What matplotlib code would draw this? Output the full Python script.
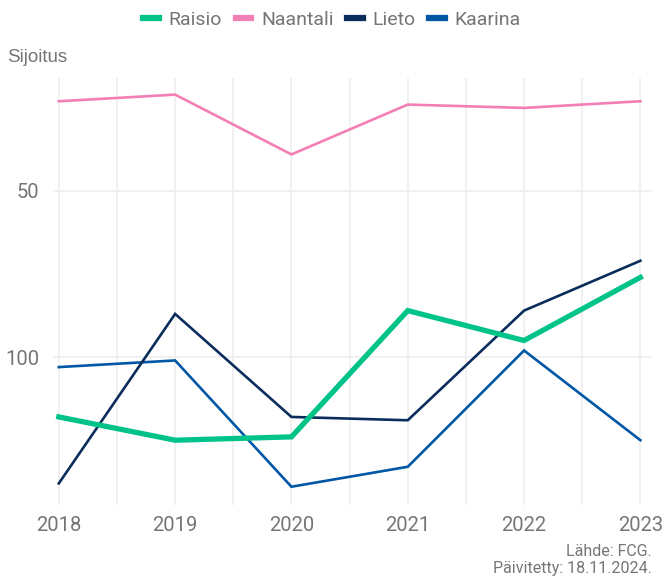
import matplotlib.pyplot as plt
from matplotlib.lines import Line2D

# Ranking of each municipality per year (lower rank = better)
years = [2018, 2019, 2020, 2021, 2022, 2023]
raisio = [118, 125, 124, 86, 95, 76]
naantali = [23, 21, 39, 24, 25, 23]
lieto = [138, 87, 118, 119, 86, 71]
kaarina = [103, 101, 139, 133, 98, 125]

names = ['Raisio', 'Naantali', 'Lieto', 'Kaarina']
colors = ['#00C389', '#F47FB6', '#0A2D5C', '#0057A6']
widths = [3.8, 1.9, 1.9, 1.9]

plt.rcParams['font.family'] = ['Roboto', 'DejaVu Sans']
gray = '#757575'

fig = plt.figure(figsize=(6.64, 5.81), dpi=100)
ax = fig.add_axes([53 / 664, 76 / 581, 599 / 664, 427 / 581])

series = [raisio, naantali, lieto, kaarina]
# thin lines first, Raisio on top
order = [3, 2, 0, 1]
for i in order:
    ax.plot(years, series[i], color=colors[i], linewidth=widths[i],
            solid_joinstyle='miter', zorder=3)

ax.set_xlim(2017.95, 2023.1)
ax.set_ylim(144.5, 16)
ax.set_yticks([50, 100])
ax.set_xticks(years)
ax.set_xticks([y + 0.5 for y in years[:-1]], minor=True)

ax.grid(True, which='major', color='#F0F0F0', linewidth=1.3, zorder=0)
ax.grid(True, which='minor', axis='x', color='#F0F0F0', linewidth=1.3, zorder=0)
for s in ax.spines.values():
    s.set_visible(False)
ax.tick_params(which='both', length=0, labelsize=14.5, labelcolor=gray)
ax.tick_params(axis='x', pad=8)
ax.tick_params(axis='y', pad=10)

fig.text(7 / 664, 1 - 58 / 581, 'Sijoitus', family='Liberation Sans',
         fontsize=13.5, color=gray, va='center', ha='left')

handles = [Line2D([0], [0], color=c, linewidth=4.5) for c in colors]
fig.legend(handles, names, loc='upper center', bbox_to_anchor=(0.5, 1.012),
           ncol=4, frameon=False, fontsize=14, labelcolor=gray,
           handlelength=0.8, handletextpad=0.5, columnspacing=0.7)

fig.text(652 / 664, 1 - 551 / 581, 'Lähde: FCG.', fontsize=11.5, color=gray,
         ha='right', va='center')
fig.text(652 / 664, 1 - 569 / 581, 'Päivitetty: 18.11.2024.', fontsize=11.5,
         color=gray, ha='right', va='center')

fig.savefig('out.png', dpi=100)
